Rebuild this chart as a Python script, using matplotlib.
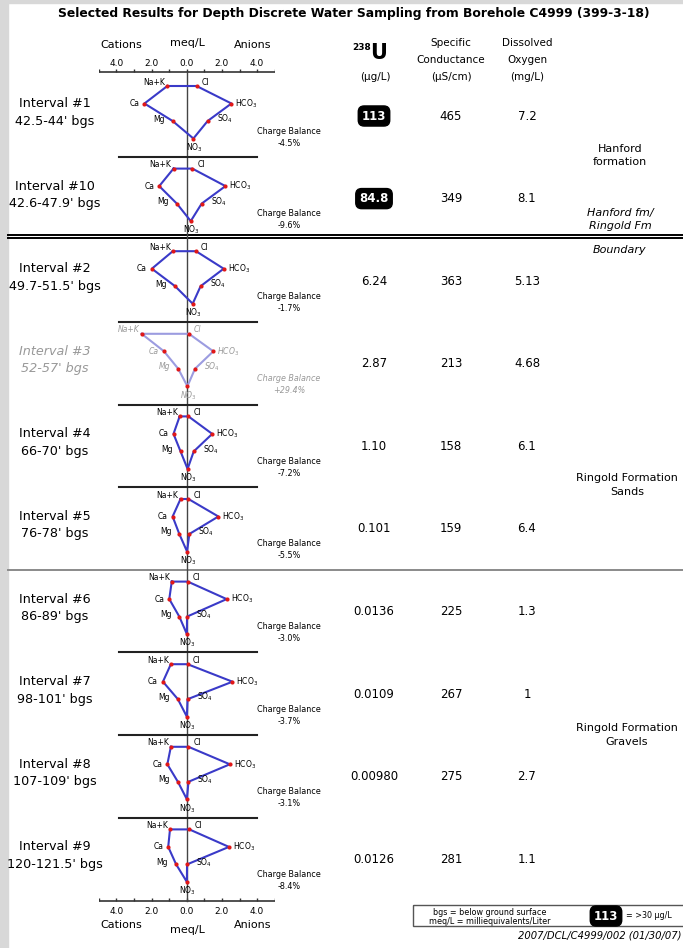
import matplotlib
matplotlib.use("Agg")
import matplotlib.pyplot as plt
import numpy as np

plt.rcParams['font.family'] = ['DejaVu Sans']

# interval names and depths, in drawing order (top to bottom)
intervals = ["Interval #1", "Interval #10", "Interval #2", "Interval #3", "Interval #4",
             "Interval #5", "Interval #6", "Interval #7", "Interval #8", "Interval #9"]
depths = ["42.5-44' bgs", "42.6-47.9' bgs", "49.7-51.5' bgs", "52-57' bgs", "66-70' bgs",
          "76-78' bgs", "86-89' bgs", "98-101' bgs", "107-109' bgs", "120-121.5' bgs"]

# stiff diagram values, meq/L
na_k = [1.10, 0.75, 0.79, 2.56, 0.40, 0.35, 0.85, 0.90, 0.90, 0.95]
ca   = [2.40, 1.56, 1.98, 1.29, 0.75, 0.80, 0.99, 1.35, 1.10, 1.05]
mg   = [0.80, 0.56, 0.66, 0.48, 0.35, 0.42, 0.42, 0.50, 0.50, 0.60]
cl   = [0.56, 0.32, 0.53, 0.13, 0.10, 0.10, 0.06, 0.05, 0.10, 0.15]
hco3 = [2.54, 2.20, 2.10, 1.51, 1.45, 1.80, 2.27, 2.60, 2.45, 2.40]
so4  = [1.19, 0.85, 0.79, 0.47, 0.40, 0.15, 0.02, 0.05, 0.10, 0.02]
no3  = [0.38, 0.23, 0.34, 0.04, 0.05, 0.02, 0.01, 0.01, 0.01, 0.01]

charge_balance = ["-4.5%", "-9.6%", "-1.7%", "+29.4%", "-7.2%",
                  "-5.5%", "-3.0%", "-3.7%", "-3.1%", "-8.4%"]
uranium = ["113", "84.8", "6.24", "2.87", "1.10", "0.101", "0.0136", "0.0109", "0.00980", "0.0126"]
spec_cond = ["465", "349", "363", "213", "158", "159", "225", "267", "275", "281"]
diss_oxy = ["7.2", "8.1", "5.13", "4.68", "6.1", "6.4", "1.3", "1", "2.7", "1.1"]
high_u = [True, True, False, False, False, False, False, False, False, False]
faded = [False, False, False, True, False, False, False, False, False, False]

W, H = 683, 948
TOP0 = 86.0      # y of first row of first diagram (pixels)
PERIOD = 82.6    # distance between diagrams
ROW = 17.5       # distance between ion rows

fig = plt.figure(figsize=(W / 100, H / 100), dpi=100)
fig.patch.set_facecolor("white")

# page axes in pixel units
ax = fig.add_axes([0, 0, 1, 1])
ax.set_xlim(0, W)
ax.set_ylim(H, 0)
ax.axis("off")

# gray frame at left / top
ax.axvspan(0, 8, color="#d8d8d8", zorder=0)
ax.axhspan(0, 3, color="#d8d8d8", zorder=0)

# stiff axes: x in meq/L, y shares pixel rows
sx = fig.add_axes([98.7 / W, 0, 176.0 / W, 1])
sx.set_xlim(-5, 5)
sx.set_ylim(H, 0)
sx.axis("off")
sx.patch.set_alpha(0)

ax.text(354, 13, "Selected Results for Depth Discrete Water Sampling from Borehole C4999 (399-3-18)",
        ha="center", va="center", fontsize=8.9, fontweight="bold")

# top and bottom meq/L scales
ticks = np.arange(-5, 6)
for ya, lab_y in [(71.7, 63.3), (900.7, 911)]:
    sx.plot([-5, 5], [ya, ya], color="#333333", lw=1.2)
    sx.vlines(ticks, ya - 2.5, ya + 0.5, color="#333333", lw=1)
    for t in ticks[1::2]:
        sx.text(t, lab_y, f"{abs(t):.1f}", ha="center", va="center", fontsize=6.5)
ax.text(121.5, 45, "Cations", ha="center", va="center", fontsize=8)
ax.text(187, 42.5, "meq/L", ha="center", va="center", fontsize=8)
ax.text(252.5, 45, "Anions", ha="center", va="center", fontsize=8)
ax.text(121.5, 925, "Cations", ha="center", va="center", fontsize=8)
ax.text(187, 930, "meq/L", ha="center", va="center", fontsize=8)
ax.text(252.5, 925, "Anions", ha="center", va="center", fontsize=8)

# centre line
sx.plot([0, 0], [71.7, 900.7], color="#444444", lw=1)

# column headers
ax.text(371, 47, "238", ha="right", va="center", fontsize=6.5, fontweight="bold")
ax.text(379, 53, "U", ha="center", va="center", fontsize=15, fontweight="bold")
ax.text(375, 77, "(\u00b5g/L)", ha="center", va="center", fontsize=7.5)
for xh, lines in [(451, ["Specific", "Conductance", "(\u00b5S/cm)"]),
                  (527, ["Dissolved", "Oxygen", "(mg/L)"])]:
    for k, s in enumerate(lines):
        ax.text(xh, 43 + 17 * k, s, ha="center", va="center", fontsize=7.5)

for i in range(len(intervals)):
    y0 = TOP0 + PERIOD * i
    rows = y0 + ROW * np.arange(4)
    if faded[i]:
        lc, tc, st = "#9c9ce0", "#999999", "italic"
    else:
        lc, tc, st = "#3a3ac8", "black", "normal"
    xs = [-na_k[i], -ca[i], -mg[i], no3[i], so4[i], hco3[i], cl[i], -na_k[i]]
    ys = [rows[0], rows[1], rows[2], rows[3], rows[2], rows[1], rows[0], rows[0]]
    sx.plot(xs, ys, color=lc, lw=1.5, zorder=3)
    sx.scatter(xs[:-1], ys[:-1], s=9, color="#e01818", zorder=4, linewidths=0)

    lab = dict(fontsize=5.5, color=tc, style=st, textcoords="offset pixels")
    sx.annotate("Na+K", (xs[0], rows[0]), xytext=(-2, 4), ha="right", va="center", **lab)
    sx.annotate("Ca", (xs[1], rows[1]), xytext=(-5, 0), ha="right", va="center", **lab)
    sx.annotate("Mg", (xs[2], rows[2]), xytext=(-8, 2), ha="right", va="center", **lab)
    sx.annotate("NO$_3$", (xs[3], rows[3]), xytext=(1, -9), ha="center", va="center", **lab)
    sx.annotate("SO$_4$", (xs[4], rows[2]), xytext=(9, 2), ha="left", va="center", **lab)
    sx.annotate("HCO$_3$", (xs[5], rows[1]), xytext=(4, 0), ha="left", va="center", **lab)
    sx.annotate("Cl", (xs[6], rows[0]), xytext=(5, 4), ha="left", va="center", **lab)

    ax.text(289, y0 + 45, "Charge Balance", ha="center", va="center", fontsize=5.8, color=tc, style=st)
    ax.text(289, y0 + 57, charge_balance[i], ha="center", va="center", fontsize=5.8, color=tc, style=st)

    ax.text(55, rows[1], intervals[i], ha="center", va="center", fontsize=9.2, color=tc, style=st)
    ax.text(55, rows[2], depths[i], ha="center", va="center", fontsize=9.2, color=tc, style=st)

    vy = y0 + 30
    if high_u[i]:
        ax.text(374, vy, uranium[i], ha="center", va="center", fontsize=8.5, color="white",
                fontweight="bold",
                bbox=dict(boxstyle="round,pad=0.3,rounding_size=0.5", fc="black", ec="black"))
    else:
        ax.text(374, vy, uranium[i], ha="center", va="center", fontsize=8.5)
    ax.text(451, vy, spec_cond[i], ha="center", va="center", fontsize=8.5)
    ax.text(527, vy, diss_oxy[i], ha="center", va="center", fontsize=8.5)

    # separators
    ysep = y0 + 70.7
    if i in (0, 2, 3, 4, 6, 7, 8):
        sx.plot([-3.86, 4.0], [ysep, ysep], color="#222222", lw=1.5)

# full width separators
ax.plot([8, W], [234.8, 234.8], color="black", lw=1.4)
ax.plot([8, W], [238.2, 238.2], color="black", lw=1.4)
ax.plot([8, W], [569.5, 569.5], color="#8a8a8a", lw=1.4)

# formation labels
ax.text(620, 155.5, "Hanford\nformation", ha="center", va="center", fontsize=8, linespacing=1.4)
ax.text(620, 219.5, "Hanford fm/\nRingold Fm", ha="center", va="center", fontsize=8,
        style="italic", linespacing=1.4)
ax.text(620, 250, "Boundary", ha="center", va="center", fontsize=8, style="italic")
ax.text(627, 485, "Ringold Formation\nSands", ha="center", va="center", fontsize=8, linespacing=1.4)
ax.text(627, 735, "Ringold Formation\nGravels", ha="center", va="center", fontsize=8, linespacing=1.4)

# legend box
ax.add_patch(plt.Rectangle((413, 905), 275, 21, fill=False, ec="#555555", lw=1))
ax.text(490, 912.5, "bgs = below ground surface", ha="center", va="center", fontsize=5.8)
ax.text(490, 921, "meq/L = milliequivalents/Liter", ha="center", va="center", fontsize=5.8)
ax.text(606, 916, "113", ha="center", va="center", fontsize=8.5, color="white", fontweight="bold",
        bbox=dict(boxstyle="round,pad=0.3,rounding_size=0.5", fc="black", ec="black"))
ax.text(626, 916, "= >30 \u00b5g/L", ha="left", va="center", fontsize=5.8)
ax.text(681, 935, "2007/DCL/C4999/002 (01/30/07)", ha="right", va="center", fontsize=7.2,
        style="italic")

fig.savefig("out.png", dpi=100)
